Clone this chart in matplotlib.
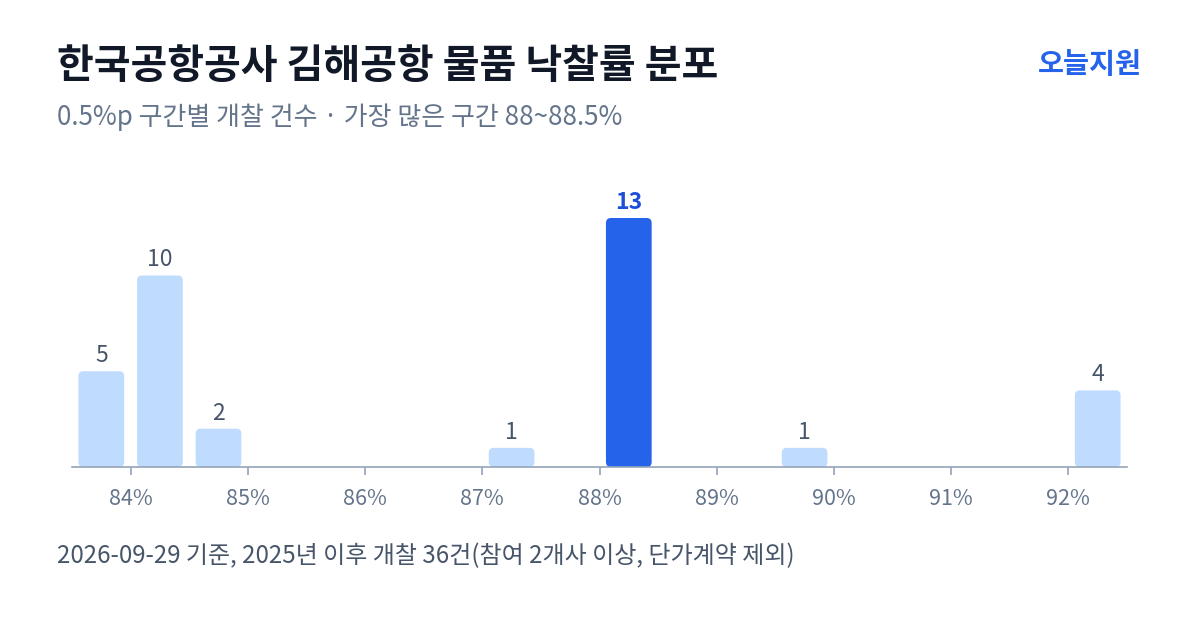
import matplotlib
matplotlib.use('Agg')
import matplotlib.pyplot as plt
from matplotlib.patches import FancyBboxPatch
import numpy as np

plt.rcParams['font.family'] = ['Noto Sans CJK KR', 'DejaVu Sans']

# 0.5%p bins (lower edge) and counts
bin_start = [83.5, 84.0, 84.5, 85.0, 85.5, 86.0, 86.5, 87.0, 87.5,
             88.0, 88.5, 89.0, 89.5, 90.0, 90.5, 91.0, 91.5, 92.0]
counts = [5, 10, 2, 0, 0, 0, 0, 1, 0, 13, 0, 0, 1, 0, 0, 0, 0, 4]
tick_vals = [84, 85, 86, 87, 88, 89, 90, 91, 92]
tick_labels = ['84%', '85%', '86%', '87%', '88%', '89%', '90%', '91%', '92%']

title = '한국공항공사 김해공항 물품 낙찰률 분포'
subtitle = '0.5%p 구간별 개찰 건수 · 가장 많은 구간 88~88.5%'
footer = '2026-09-29 기준, 2025년 이후 개찰 36건(참여 2개사 이상, 단가계약 제외)'
brand = '오늘지원'

light = '#bfdbfe'
hi = '#2563eb'

W, H = 1200, 630
fig = plt.figure(figsize=(12, 6.3), dpi=100)
ax_l, ax_b, ax_w, ax_h = 72 / W, 163 / H, 1055 / W, 277 / H
ax = fig.add_axes([ax_l, ax_b, ax_w, ax_h])

xmin, xmax = 83.5, 92.5
ymax = 13 * 277 / 249
ax.set_xlim(xmin, xmax)
ax.set_ylim(0, ymax)

px_x = ax_w * W / (xmax - xmin)
px_y = ax_h * H / ymax
aspect = px_x / px_y

bw = 0.39
top_i = int(np.argmax(counts))
for i, (b, c) in enumerate(zip(bin_start, counts)):
    if c == 0:
        continue
    cx = b + 0.25
    col = hi if i == top_i else light
    p = FancyBboxPatch((cx - bw / 2, 0), bw, c,
                       boxstyle='round,pad=0,rounding_size=%f' % (5 / px_x),
                       mutation_aspect=aspect, fc=col, ec='none', zorder=2)
    ax.add_patch(p)
    if i == top_i:
        ax.text(cx, c + 9 / px_y, str(c), ha='center', va='baseline',
                fontsize=16.5, fontweight='bold', color='#1d4ed8')
    else:
        ax.text(cx, c + 9 / px_y, str(c), ha='center', va='baseline',
                fontsize=16.5, color='#475569')

for s in ['top', 'right', 'left']:
    ax.spines[s].set_visible(False)
ax.spines['bottom'].set_color('#94a3b8')
ax.spines['bottom'].set_linewidth(1.2)
ax.spines['bottom'].set_zorder(3)
ax.set_yticks([])
ax.set_xticks(tick_vals)
ax.set_xticklabels(tick_labels)
ax.tick_params(axis='x', length=6, width=1.2, color='#94a3b8',
               labelsize=15.5, labelcolor='#64748b', pad=9)

fig.text(57 / W, 1 - 67 / H, title, fontsize=28.8, fontweight='bold',
         color='#111827', va='center', ha='left')
fig.text(1142 / W, 1 - 65 / H, brand, fontsize=20.4, fontweight='bold',
         color=hi, va='center', ha='right')
fig.text(57 / W, 1 - 117 / H, subtitle, fontsize=18.7, color='#64748b',
         va='center', ha='left')
fig.text(57 / W, 1 - 556 / H, footer, fontsize=17.3, color='#475569',
         va='center', ha='left')

fig.savefig('out.png', dpi=100, facecolor='white')
